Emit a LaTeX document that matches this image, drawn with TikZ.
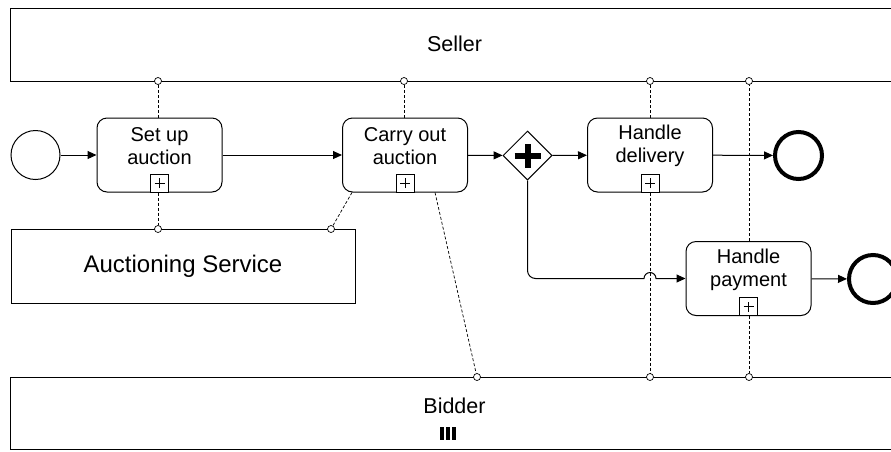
\documentclass[tikz,border=0pt]{standalone}
\usepackage{fontspec}
\setmainfont{Liberation Sans}
\usetikzlibrary{arrows.meta,shapes.geometric}
\begin{document}
\begin{tikzpicture}[x=1pt,y=-1pt,
  task/.style={draw,rounded corners=10pt,minimum width=125pt,minimum height=74pt,line width=1pt,inner sep=0pt,fill=white},
  tasklabel/.style={align=center,font=\fontsize{20}{23}\selectfont,inner sep=0pt},
  pool/.style={draw,line width=1pt,inner sep=0pt,fill=white},
  poollabel/.style={font=\fontsize{21.5}{24}\selectfont,inner sep=0pt},
  flow/.style={-{Triangle[length=9pt,width=8pt]},line width=1pt},
  msg/.style={dash pattern=on 3pt off 2pt,line width=0.7pt},
  mcirc/.style={circle,draw,fill=white,inner sep=0pt,minimum size=7pt,line width=0.7pt},
  expmark/.style={draw,minimum size=18pt,inner sep=0pt,line width=0.8pt,fill=white},
  evt/.style={circle,draw,inner sep=0pt,fill=white}
]
\useasboundingbox (0,0) rectangle (891,451);
\fill[white] (0,0) rectangle (891,451);

% pools
\node[pool,minimum width=889pt,minimum height=73pt] (seller) at (454.5,44.5) {};
\node[poollabel] (sellerlabel) at (454.5,44) {Seller};
\node[pool,minimum width=889pt,minimum height=72pt] (bidder) at (454.5,413) {};
\node[poollabel] (bidderlabel) at (454.5,406) {Bidder};
\fill (440,427) rectangle (443.5,440);
\fill (446,427) rectangle (449.5,440);
\fill (452,427) rectangle (455.5,440);
\node[pool,minimum width=344pt,minimum height=74pt] (service) at (183,266) {};
\node[font=\fontsize{24}{27}\selectfont,inner sep=0pt] (servicelabel) at (183,266) {Auctioning Service};

% events
\node[evt,line width=1pt,minimum size=49pt] (start) at (35.5,155) {};
\node[evt,line width=4pt,minimum size=47pt] (end1) at (798.5,155.5) {};
\node[evt,line width=4pt,minimum size=48pt] (end2) at (873,279) {};

% tasks
\node[task] (setup) at (159.5,155) {};
\node[tasklabel] (setupl) at (159.5,146) {Set up\\auction};
\node[task] (carry) at (405,155) {};
\node[tasklabel] (carryl) at (405,146) {Carry out\\auction};
\node[task] (hd) at (650,155) {};
\node[tasklabel] (hdl) at (650,146) {Handle\\delivery};
\node[task] (hp) at (748.5,278.5) {};
\node[tasklabel] (hpl) at (748.5,269.5) {Handle\\payment};

\foreach \t in {setup,carry,hd,hp}{
  \node[expmark,anchor=south] (\t m) at (\t.south) {};
  \draw[line width=0.8pt] ([xshift=-5pt]\t m.center) -- ([xshift=5pt]\t m.center);
  \draw[line width=0.8pt] ([yshift=-5pt]\t m.center) -- ([yshift=5pt]\t m.center);
}

% gateway
\node[diamond,draw,line width=1pt,minimum width=49pt,minimum height=49pt,inner sep=0pt,fill=white] (gw) at (527.5,155.5) {};
\draw[line width=6pt] ([xshift=-13pt]gw.center) -- ([xshift=13pt]gw.center);
\draw[line width=6pt] ([yshift=-12pt]gw.center) -- ([yshift=12pt]gw.center);

% sequence flows
\draw[flow] (start) -- (setup);
\draw[flow] (setup) -- (carry);
\draw[flow] (carry) -- (gw);
\draw[flow] (gw) -- (hd);
\draw[flow] (hd) -- (end1);
\draw[flow] (hp) -- (end2);
\coordinate (corner) at (527.5,278.5);
\coordinate (jump) at (644,278.5);
\draw[flow] (gw.south) [rounded corners=8pt] -- (corner) [sharp corners] -- (jump)
  arc[start angle=180,end angle=0,radius=6pt] -- (hp.west);

% message flow ends
\node[mcirc] (s1) at (158,81) {};
\node[mcirc] (s2) at (404,81) {};
\node[mcirc] (s3) at (650,81) {};
\node[mcirc] (s4) at (749,81) {};
\node[mcirc] (a1) at (158,229) {};
\node[mcirc] (a2) at (331,229) {};
\node[mcirc] (b1) at (477,377) {};
\node[mcirc] (b2) at (650,377) {};
\node[mcirc] (b3) at (749,377) {};

\draw[msg] (setup.north -| s1) -- (s1);
\draw[msg] (setup.south -| a1) -- (a1);
\draw[msg] (carry.north -| s2) -- (s2);
\draw[msg] ([xshift=10pt]carry.south west) -- (a2);
\draw[msg] ([xshift=-33pt]carry.south east) -- (b1);
\draw[msg] (hd.north -| s3) -- (s3);
\draw[msg] (hd.south -| b2) -- (b2);
\draw[msg] (hp.north -| s4) -- (s4);
\draw[msg] (hp.south -| b3) -- (b3);
\end{tikzpicture}
\end{document}
